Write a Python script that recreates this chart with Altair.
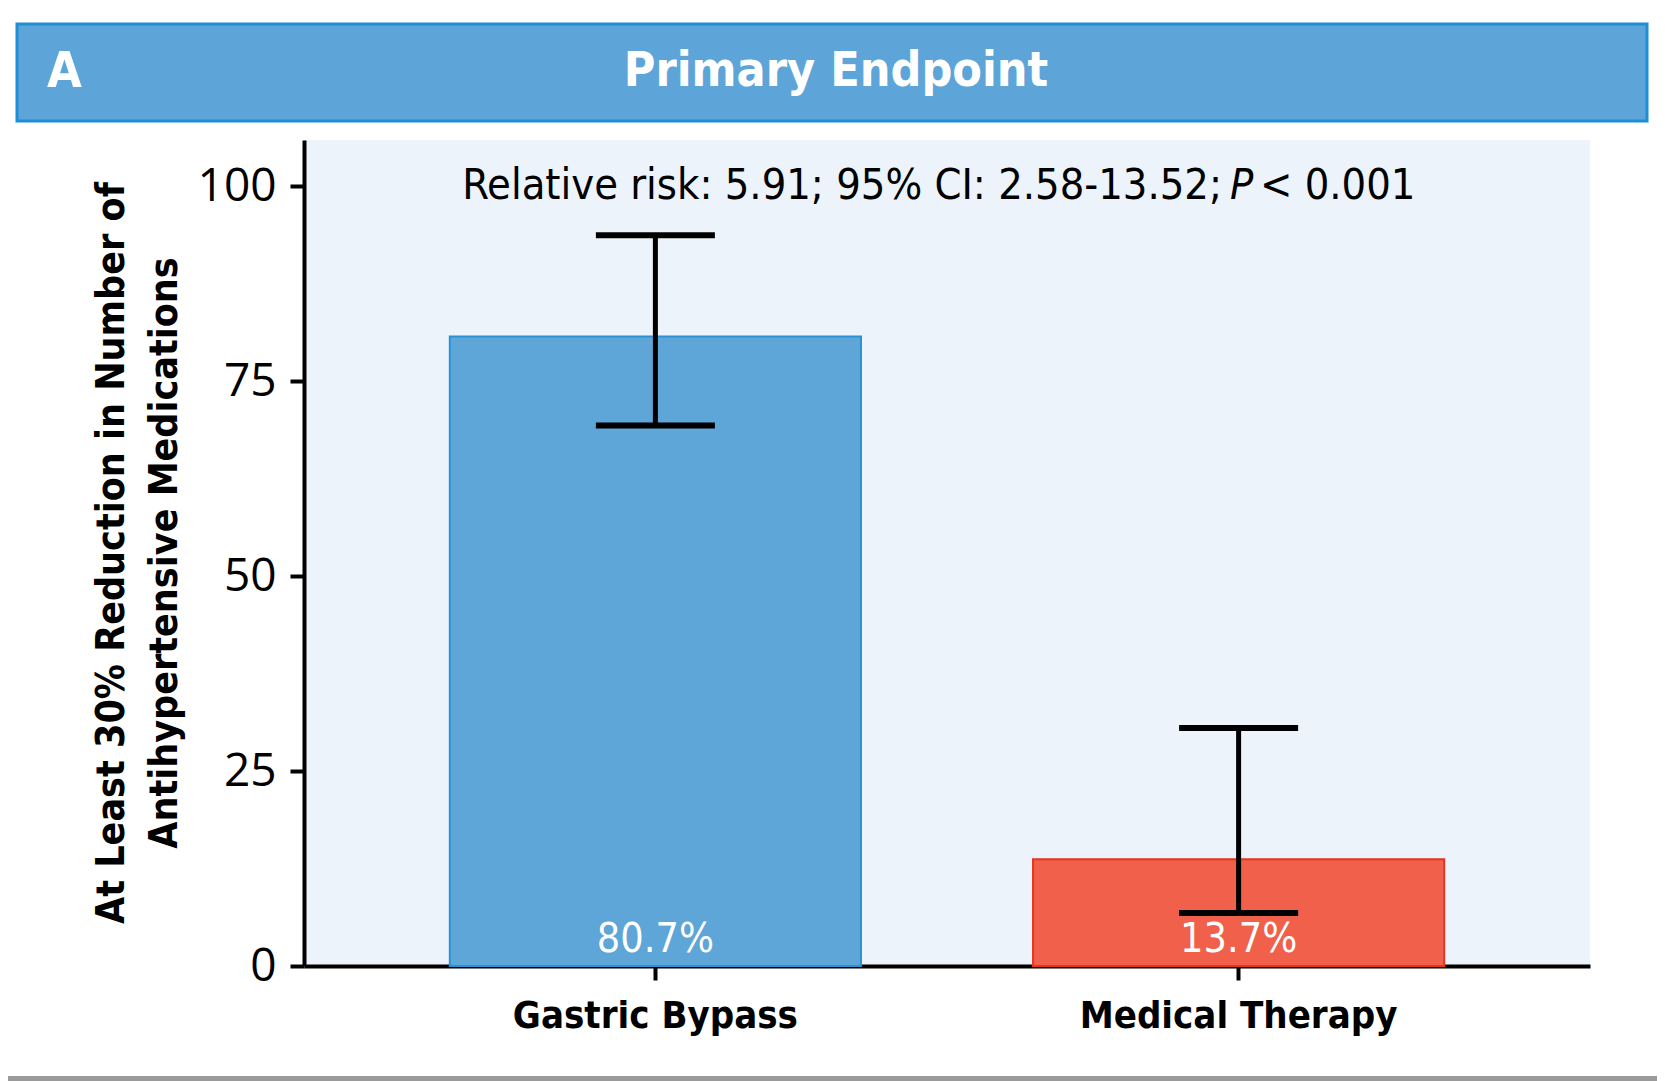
import altair as alt
import pandas as pd

# ---- data ----
groups = ["Gastric Bypass", "Medical Therapy"]
percents = [80.7, 13.7]
ci_low = [69.3, 6.8]
ci_high = [93.7, 30.5]
bar_labels = ["80.7%", "13.7%"]
bar_colors = ["#5EA5D8", "#F0604B"]
bar_strokes = ["#2A91D5", "#E8341F"]
y_ticks = [0, 25, 50, 75, 100]
y_title = ["At Least 30% Reduction in Number of", "Antihypertensive Medications"]
panel_letter = ["A"]
panel_title = ["Primary Endpoint"]
stat_main = ["Relative risk: 5.91; 95% CI: 2.58-13.52;"]
stat_p = ["P"]
stat_tail = ["< 0.001"]

NARROW = "Liberation Sans Narrow, DejaVu Sans Condensed, sans-serif"
W, H = 1286, 826

df = pd.DataFrame({
    "group": groups,
    "pct": percents,
    "lo": ci_low,
    "hi": ci_high,
    "label": bar_labels,
})

xenc = alt.X(
    "group:N",
    sort=groups,
    scale=alt.Scale(paddingInner=0.295, paddingOuter=0.25),
    axis=alt.Axis(
        title=None, labelAngle=0, domainColor="black", domainWidth=4,
        tickColor="black", tickWidth=4, tickSize=14, labelLimit=0,
        labelFont=NARROW, labelFontSize=38, labelFontWeight="bold",
        labelColor="black", labelPadding=17,
    ),
)
yscale = alt.Scale(domain=[0, 105.9], nice=False)

base = alt.Chart(df)

bars = base.mark_bar(strokeWidth=2).encode(
    x=xenc,
    y=alt.Y(
        "pct:Q", scale=yscale,
        axis=alt.Axis(
            values=y_ticks, title=None, grid=False, domainColor="black",
            domainWidth=4, tickColor="black", tickWidth=4, tickSize=14,
            labelFont="Open Sans", labelFontSize=46, labelColor="black",
            labelPadding=14,
        ),
    ),
    color=alt.Color("group:N", scale=alt.Scale(domain=groups, range=bar_colors), legend=None),
    stroke=alt.Stroke("group:N", scale=alt.Scale(domain=groups, range=bar_strokes), legend=None),
)

err = base.mark_rule(strokeWidth=5, color="black").encode(
    x=alt.X("group:N", sort=groups), y=alt.Y("lo:Q", scale=yscale), y2="hi:Q"
)
cap_lo = base.mark_tick(size=119, thickness=6, color="black", opacity=1).encode(
    x=alt.X("group:N", sort=groups), y=alt.Y("lo:Q", scale=yscale)
)
cap_hi = base.mark_tick(size=119, thickness=6, color="black", opacity=1).encode(
    x=alt.X("group:N", sort=groups), y=alt.Y("hi:Q", scale=yscale)
)

bar_text = base.mark_text(
    color="white", font=NARROW, fontSize=41, baseline="alphabetic", dy=-14
).encode(x=alt.X("group:N", sort=groups), y=alt.datum(0), text="label:N")

# annotation (P in italics)
ann1 = alt.Chart(pd.DataFrame({"t": stat_main})).mark_text(
    font=NARROW, fontSize=43, align="right", baseline="middle", color="black"
).encode(x=alt.value(918), y=alt.value(46), text="t:N")
ann2 = alt.Chart(pd.DataFrame({"t": stat_p})).mark_text(
    font=NARROW, fontSize=43, fontStyle="italic", align="left", baseline="middle", color="black"
).encode(x=alt.value(926), y=alt.value(46), text="t:N")
ann3 = alt.Chart(pd.DataFrame({"t": stat_tail})).mark_text(
    font=NARROW, fontSize=43, align="left", baseline="middle", color="black"
).encode(x=alt.value(956), y=alt.value(46), text="t:N")

# y axis title (two lines)
ytitle = alt.Chart(pd.DataFrame({"t": ["\n".join(y_title)]})).mark_text(
    font=NARROW, fontSize=39, fontWeight="bold", angle=270, align="center",
    baseline="middle", lineBreak="\n", lineHeight=53, color="black"
).encode(x=alt.value(-192), y=alt.value(H / 2), text="t:N")

# header banner
banner = alt.Chart(pd.DataFrame({"t": panel_title})).mark_rect(
    fill="#5DA5D8", stroke="#1E8FD5", strokeWidth=3
).encode(x=alt.value(-287), x2=alt.value(1343), y=alt.value(-116), y2=alt.value(-19))
banner_title = alt.Chart(pd.DataFrame({"t": panel_title})).mark_text(
    font=NARROW, fontSize=48, fontWeight="bold", color="white", align="center", baseline="middle"
).encode(x=alt.value(532), y=alt.value(-68), text="t:N")
banner_letter = alt.Chart(pd.DataFrame({"t": panel_letter})).mark_text(
    font=NARROW, fontSize=50, fontWeight="bold", color="white", align="left", baseline="middle"
).encode(x=alt.value(-257), y=alt.value(-68), text="t:N")

# bottom page edge shadow
edge = alt.Chart(pd.DataFrame({"t": panel_title})).mark_rect(
    fill="#9A9A9A", strokeWidth=0
).encode(x=alt.value(-296), x2=alt.value(1353), y=alt.value(936), y2=alt.value(941))

chart = alt.layer(
    edge, banner, banner_title, banner_letter,
    bars, err, cap_lo, cap_hi, bar_text,
    ann1, ann2, ann3, ytitle,
).properties(
    width=W, height=H,
    autosize=alt.AutoSizeParams(type="none"),
    padding={"left": 296, "top": 132, "right": 67, "bottom": 115},
    background="white",
).configure_view(fill="#ECF3FA", strokeWidth=0)

chart.save("out.html", embed_options={"renderer": "svg", "actions": False})
